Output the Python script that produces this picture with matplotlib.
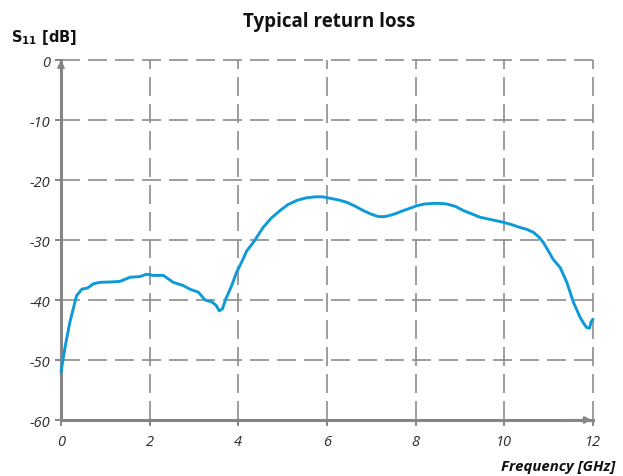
import matplotlib.pyplot as plt

# Typical return loss (S11)
freq_ghz = [0.0, 0.1, 0.2, 0.35, 0.47, 0.6, 0.73, 0.88, 1.1, 1.33, 1.56, 1.78, 1.93, 2.08,
            2.31, 2.53, 2.76, 2.91, 3.1, 3.25, 3.4, 3.5, 3.57, 3.64, 3.72, 3.85, 3.96,
            4.1, 4.19, 4.34, 4.56, 4.75, 4.94, 5.12, 5.32, 5.52, 5.73, 5.9, 6.07, 6.25,
            6.44, 6.62, 6.82, 7.0, 7.16, 7.3, 7.42, 7.55, 7.72, 7.88, 8.02, 8.2, 8.4,
            8.55, 8.7, 8.9, 9.08, 9.25, 9.45, 9.7, 9.98, 10.15, 10.35, 10.5, 10.65, 10.78,
            10.88, 11.0, 11.1, 11.26, 11.41, 11.56, 11.71, 11.8, 11.86, 11.92, 11.96, 12.0]
s11_db = [-52.0, -47.5, -43.7, -39.3, -38.2, -38.0, -37.3, -37.05, -37.0, -36.9, -36.2,
          -36.1, -35.7, -35.9, -35.9, -37.05, -37.6, -38.2, -38.7, -40.0, -40.3, -40.9,
          -41.8, -41.5, -39.8, -37.6, -35.4, -33.3, -31.8, -30.4, -27.9, -26.3, -25.1,
          -24.1, -23.4, -23.0, -22.8, -22.8, -23.05, -23.3, -23.7, -24.3, -25.1, -25.7,
          -26.1, -26.1, -25.9, -25.6, -25.1, -24.7, -24.3, -24.0, -23.9, -23.9, -24.0,
          -24.4, -25.1, -25.6, -26.2, -26.6, -27.05, -27.4, -27.9, -28.2, -28.7, -29.5,
          -30.4, -31.9, -33.2, -34.6, -37.05, -40.4, -42.9, -44.0, -44.6, -44.7, -43.6,
          -43.2]

x_ticks = [0, 2, 4, 6, 8, 10, 12]
y_ticks = [0, -10, -20, -30, -40, -50, -60]

AXIS_GRAY = "#858585"
GRID_GRAY = "#8c8c8c"
LINE_BLUE = "#0E9AD7"
TEXT_DARK = "#2b2b2b"

fig = plt.figure(figsize=(6.23, 4.77), dpi=100)
ax = fig.add_axes([0.0979, 0.1174, 0.8539, 0.7547])

ax.set_xlim(0, 12)
ax.set_ylim(-60, 0)
ax.set_xticks(x_ticks)
ax.set_yticks(y_ticks)
ax.set_xticklabels([str(t) for t in x_ticks])
ax.set_yticklabels([str(t) for t in y_ticks])

# dashed grid (includes the top and right borders)
grid_dash = (11.4, 4.8)
for gx in x_ticks[1:]:
    ax.axvline(gx, color=GRID_GRAY, lw=1.2, dashes=grid_dash, zorder=1, clip_on=False)
for gy in y_ticks[:-1]:
    ax.axhline(gy, color=GRID_GRAY, lw=1.2, dashes=grid_dash, zorder=1, clip_on=False)

for side in ["top", "right"]:
    ax.spines[side].set_visible(False)
for side in ["left", "bottom"]:
    ax.spines[side].set_color(AXIS_GRAY)
    ax.spines[side].set_linewidth(2.2)
    ax.spines[side].set_zorder(2)

# arrow heads on the axes
ax.annotate("", xy=(0, 0), xytext=(0, -3), xycoords="data",
            arrowprops=dict(arrowstyle="-|>", color=AXIS_GRAY, lw=1.5, mutation_scale=10,
                            shrinkA=0, shrinkB=0),
            annotation_clip=False)
ax.annotate("", xy=(11.97, -60), xytext=(11.4, -60), xycoords="data",
            arrowprops=dict(arrowstyle="-|>", color=AXIS_GRAY, lw=1.5, mutation_scale=10,
                            shrinkA=0, shrinkB=0),
            annotation_clip=False)

ax.tick_params(axis="both", color=AXIS_GRAY, width=1.4, length=4, direction="out",
               labelcolor=TEXT_DARK, labelsize=10.5)
ax.tick_params(axis="x", pad=6)
ax.tick_params(axis="y", pad=4)
for lab in ax.get_xticklabels() + ax.get_yticklabels():
    lab.set_fontstyle("italic")
    lab.set_family(["Open Sans", "DejaVu Sans"])

ax.plot(freq_ghz, s11_db, color=LINE_BLUE, lw=2.1, zorder=3, clip_on=False,
        solid_capstyle="round")

fig.text(0.528, 0.953, "Typical return loss", ha="center", va="center",
         fontsize=13.5, fontweight="bold", family=["Open Sans", "DejaVu Sans"], color="#111111")
fig.text(0.018, 0.922, r"$\mathbf{S_{11}}$ [dB]", ha="left", va="center",
         fontsize=10.5, fontweight="bold", color="#111111")
fig.text(0.988, 0.022, "Frequency [GHz]", ha="right", va="center",
         fontsize=10.8, fontweight="bold", fontstyle="italic",
         family=["Open Sans", "DejaVu Sans"], color="#111111")

fig.savefig("out.png", dpi=100)
